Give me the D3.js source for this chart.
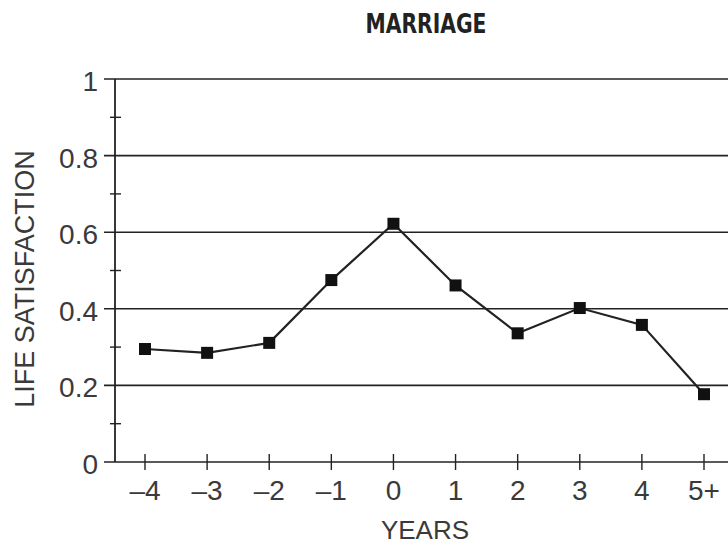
<!DOCTYPE html>
<html>
<head>
<meta charset="utf-8">
<script src="https://cdn.jsdelivr.net/npm/d3@7"></script>
<style>
  body { margin: 0; background: #fff; }
</style>
</head>
<body>
<svg id="chart" width="728" height="545"></svg>
<script>
const years = ["–4", "–3", "–2", "–1", "0", "1", "2", "3", "4", "5+"];
const satisfaction = [0.295, 0.285, 0.311, 0.475, 0.622, 0.461, 0.336, 0.402, 0.358, 0.177];
const yTicks = [0, 0.2, 0.4, 0.6, 0.8, 1];
const yMinorTicks = [0.1, 0.3, 0.5, 0.7, 0.9];

const svg = d3.select("#chart");
const ink = "#222";
const labelFont = "Arial, 'Liberation Sans', sans-serif";

const x = d3.scalePoint().domain(years).range([145, 704]);
const y = d3.scaleLinear().domain([0, 1]).range([462, 79]);
const axisX = 115;

// gridlines (major y ticks), running off the right edge
svg.append("g")
  .selectAll("line")
  .data(yTicks)
  .join("line")
  .attr("x1", 104)
  .attr("x2", 728)
  .attr("y1", d => y(d))
  .attr("y2", d => y(d))
  .attr("stroke", ink)
  .attr("stroke-width", 1.6);

// minor ticks crossing the y axis
svg.append("g")
  .selectAll("line")
  .data(yMinorTicks)
  .join("line")
  .attr("x1", axisX - 5)
  .attr("x2", axisX + 6)
  .attr("y1", d => y(d))
  .attr("y2", d => y(d))
  .attr("stroke", ink)
  .attr("stroke-width", 1.4);

// y axis line
svg.append("line")
  .attr("x1", axisX).attr("x2", axisX)
  .attr("y1", y(1)).attr("y2", y(0))
  .attr("stroke", ink)
  .attr("stroke-width", 1.8);

// x ticks crossing the baseline
svg.append("g")
  .selectAll("line")
  .data(years)
  .join("line")
  .attr("x1", d => x(d))
  .attr("x2", d => x(d))
  .attr("y1", y(0) - 8)
  .attr("y2", y(0) + 8)
  .attr("stroke", ink)
  .attr("stroke-width", 1.4);

// y tick labels
svg.append("g")
  .selectAll("text")
  .data(yTicks)
  .join("text")
  .attr("x", 98)
  .attr("y", d => y(d) + 12)
  .attr("text-anchor", "end")
  .style("font-family", labelFont)
  .style("font-size", "28px")
  .style("fill", "#3a3a3a")
  .text(d => d3.format("")(d));

// x tick labels
svg.append("g")
  .selectAll("text")
  .data(years)
  .join("text")
  .attr("x", d => x(d))
  .attr("y", 500)
  .attr("text-anchor", "middle")
  .style("font-family", labelFont)
  .style("font-size", "28px")
  .style("fill", "#3a3a3a")
  .text(d => d);

// the line
const line = d3.line()
  .x((d, i) => x(years[i]))
  .y(d => y(d));

svg.append("path")
  .datum(satisfaction)
  .attr("d", line)
  .attr("fill", "none")
  .attr("stroke", ink)
  .attr("stroke-width", 2.2);

// square markers
const size = 12;
svg.append("g")
  .selectAll("rect")
  .data(satisfaction)
  .join("rect")
  .attr("x", (d, i) => x(years[i]) - size / 2)
  .attr("y", d => y(d) - size / 2)
  .attr("width", size)
  .attr("height", size)
  .attr("fill", "#111");

// titles
svg.append("text")
  .attr("x", 426)
  .attr("y", 33)
  .attr("text-anchor", "middle")
  .attr("textLength", 121)
  .attr("lengthAdjust", "spacingAndGlyphs")
  .style("font-family", "'DejaVu Sans Condensed', 'DejaVu Sans', sans-serif")
  .style("font-weight", "bold")
  .style("font-size", "26px")
  .style("fill", "#222")
  .text("MARRIAGE");

svg.append("text")
  .attr("x", 425)
  .attr("y", 539)
  .attr("text-anchor", "middle")
  .style("font-family", labelFont)
  .style("font-size", "26px")
  .style("fill", "#3a3a3a")
  .text("YEARS");

svg.append("text")
  .attr("transform", `translate(34, 279) rotate(-90)`)
  .attr("text-anchor", "middle")
  .style("font-family", labelFont)
  .style("font-size", "27px")
  .style("fill", "#3a3a3a")
  .text("LIFE SATISFACTION");
</script>
</body>
</html>
